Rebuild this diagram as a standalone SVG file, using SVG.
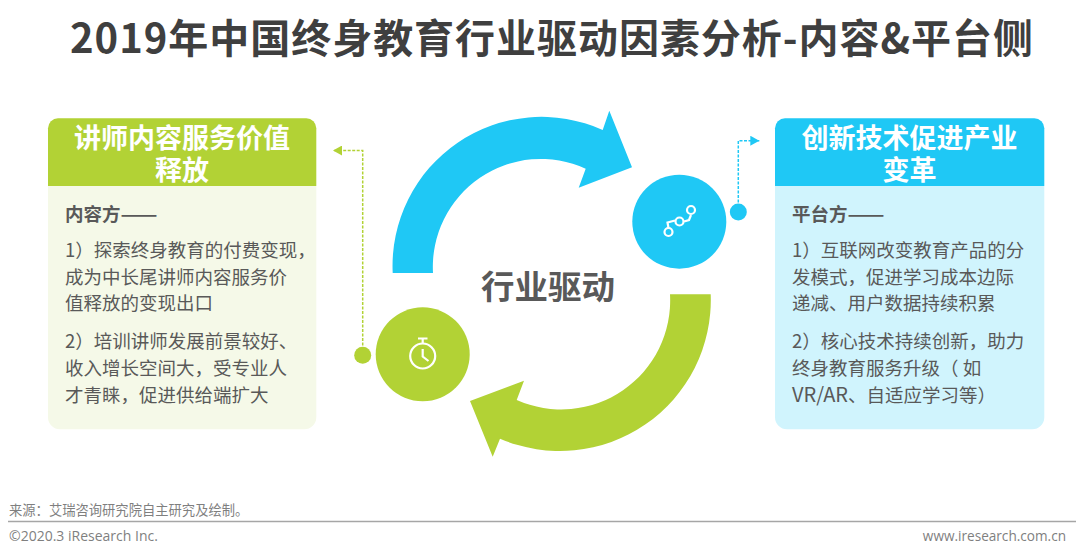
<svg xmlns="http://www.w3.org/2000/svg" width="1080" height="557" viewBox="0 0 1080 557">
<defs>
<marker id="ag" markerUnits="userSpaceOnUse" markerWidth="10" markerHeight="10" refX="9" refY="5" orient="auto"><path d="M0,0L9,5L0,10z" fill="#b2d235"/></marker>
<marker id="ab" markerUnits="userSpaceOnUse" markerWidth="10" markerHeight="10" refX="9" refY="5" orient="auto"><path d="M0,0L9,5L0,10z" fill="#1fc8f5"/></marker>
</defs>
<style>
text{font-family:"Noto Sans CJK SC","Noto Sans",sans-serif}
.t{font-size:40px;font-weight:700;fill:#3f3f3f}
.h{font-size:27px;font-weight:700;fill:#fff;text-anchor:middle}
.b{font-size:18.5px;fill:#595959}
.s{font-weight:700}
.f{font-size:13.3px;fill:#7f7f7f}
.c{font-family:"Open Sans","Noto Sans",sans-serif;fill:#7f7f7f}
.i{fill:none;stroke:#fff;stroke-width:2.2}
.d{fill:none;stroke-width:1.5;stroke-dasharray:3 1.5}
</style>
<rect width="1080" height="557" fill="#fff"/>
<text class="t" x="70" y="53" textLength="963">2019年中国终身教育行业驱动因素分析-内容&amp;平台侧</text>
<g id="arrow-blue"><path fill="#1fc8f5" d="M392.7,273A149,149 0 0 1 602.7,130L609.3,110.7L632,167.3L578.7,187.7L585.7,168.7A108,108 0 0 0 433,273Z"/></g>
<g id="arrow-green"><path fill="#b2d235" d="M710.7,294.3A151,151 0 0 1 500,438.7L492.7,456.7L470,401L524,380.7L516.7,400A109,109 0 0 0 670,294.3Z"/></g>
<g id="connectors">
<path class="d" stroke="#b2d235" d="M362.7,350V150.5H333" marker-end="url(#ag)"/>
<path class="d" stroke="#1fc8f5" d="M738.3,207V140.7H759.3" marker-end="url(#ab)"/>
</g>
<g id="node-center"><text x="548" y="299" text-anchor="middle" font-size="33.5" font-weight="700" fill="#595959">行业驱动</text></g>
<g id="node-blue-circle">
<circle cx="679.3" cy="221.7" r="47" fill="#1fc8f5"/>
<circle cx="738.3" cy="212" r="8.5" fill="#1fc8f5"/>
<path class="i" d="M668.5,228L667.5,222.5L675,220.5M684,221.5L689,220L691,215"/>
<circle class="i" cx="668.5" cy="232" r="4"/><circle class="i" cx="679.5" cy="221.5" r="4"/><circle class="i" cx="691" cy="210" r="4"/>
</g>
<g id="node-green-circle">
<circle cx="422.7" cy="354.3" r="47" fill="#b2d235"/>
<circle cx="362.7" cy="355.3" r="8.5" fill="#b2d235"/>
<circle class="i" cx="422.7" cy="356" r="12.5"/>
<path class="i" d="M418,338.5H427.5M422.7,338.5V343M422.7,349V356.5L428.5,361"/>
</g>
<g id="node-left">
<path fill="#f5f9e8" d="M48,186H316.3V417.3a12,12 0 0 1 -12,12H60a12,12 0 0 1 -12,-12Z"/>
<path fill="#b2d235" d="M48,186V128.3a10,10 0 0 1 10,-10H306.3a10,10 0 0 1 10,10V186Z"/>
<text class="h"><tspan x="182" y="148">讲师内容服务价值</tspan><tspan x="182" y="180">释放</tspan></text>
<text class="b s" x="65" y="221">内容方<tspan textLength="37" lengthAdjust="spacingAndGlyphs">——</tspan></text>
<text class="b" x="65" y="257">1）探索终身教育的付费变现，</text>
<text class="b" x="65" y="284">成为中长尾讲师内容服务价</text>
<text class="b" x="65" y="310">值释放的变现出口</text>
<text class="b" x="65" y="348">2）培训讲师发展前景较好、</text>
<text class="b" x="65" y="375">收入增长空间大，受专业人</text>
<text class="b" x="65" y="402">才青睐，促进供给端扩大</text>
</g>
<g id="node-right">
<path fill="#d0f4fd" d="M775,186H1044.3V417.3a12,12 0 0 1 -12,12H787a12,12 0 0 1 -12,-12Z"/>
<path fill="#1fc8f5" d="M775,186V128.3a10,10 0 0 1 10,-10H1034.3a10,10 0 0 1 10,10V186Z"/>
<text class="h"><tspan x="909.5" y="148">创新技术促进产业</tspan><tspan x="909.5" y="180">变革</tspan></text>
<text class="b s" x="792" y="221">平台方<tspan textLength="37" lengthAdjust="spacingAndGlyphs">——</tspan></text>
<text class="b" x="792" y="257">1）互联网改变教育产品的分</text>
<text class="b" x="792" y="284">发模式，促进学习成本边际</text>
<text class="b" x="792" y="310">递减、用户数据持续积累</text>
<text class="b" x="792" y="348">2）核心技术持续创新，助力</text>
<text class="b" x="792" y="375">终身教育服务升级（ 如</text>
<text class="b" x="792" y="402"><tspan font-size="20">VR/AR</tspan>、自适应学习等）</text>
</g>
<g id="footer">
<text class="f" x="9" y="515">来源：艾瑞咨询研究院自主研究及绘制。</text>
<path d="M8,521.5H1076" stroke="#a6a6a6" stroke-width="1.5"/>
<text class="c" font-size="14" x="9" y="541">©2020.3 iResearch Inc.</text>
<text class="c" font-size="13.6" x="1066" y="541" text-anchor="end">www.iresearch.com.cn</text>
</g>
</svg>
